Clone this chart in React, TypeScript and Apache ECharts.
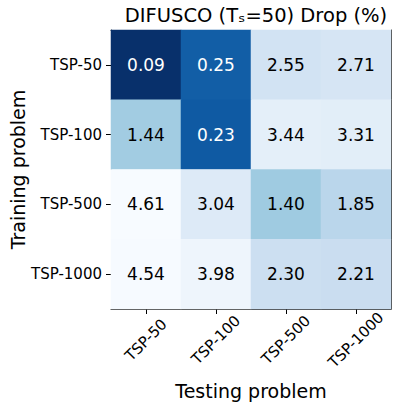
import React, { useEffect, useRef } from "react";
import * as echarts from "echarts";

const testingProblems = ["TSP-50", "TSP-100", "TSP-500", "TSP-1000"];
const trainingProblems = ["TSP-50", "TSP-100", "TSP-500", "TSP-1000"];
// rows = training problem, columns = testing problem
const drop50 = [0.09, 0.25, 2.55, 2.71];
const drop100 = [1.44, 0.23, 3.44, 3.31];
const drop500 = [4.61, 3.04, 1.4, 1.85];
const drop1000 = [4.54, 3.98, 2.3, 2.21];
const dropRows = [drop50, drop100, drop500, drop1000];

const BLUES = ["#f7fbff", "#deebf7", "#c6dbef", "#9ecae1", "#6baed6", "#4292c6", "#2171b5", "#08519c", "#08306b"];
const FONT = "DejaVu Sans";

export default function App() {
  const ref = useRef<HTMLDivElement>(null);
  useEffect(() => {
    if (!ref.current) return;
    const chart = echarts.init(ref.current, null, { renderer: "svg" });
    const all = dropRows.flat();
    const vmin = Math.min(...all);
    const vmax = Math.max(...all);
    const k = 20; // log-like colour normalisation
    const norm = (v: number) => Math.log(1 + k * ((v - vmin) / (vmax - vmin))) / Math.log(1 + k);
    const data: any[] = [];
    dropRows.forEach((row, yi) => {
      row.forEach((v, xi) => {
        const t = norm(v);
        data.push({
          value: [xi, yi, v, t],
          label: { color: t < 0.5 ? "#ffffff" : "#000000" },
        });
      });
    });
    const labelStyle = { fontFamily: FONT, fontSize: 15, color: "#000" };
    chart.setOption({
      animation: false,
      textStyle: { fontFamily: FONT },
      title: {
        text: "DIFUSCO (Tₛ=50) Drop (%)",
        left: 251,
        top: 0,
        textAlign: "center",
        textStyle: { fontFamily: FONT, fontSize: 19.5, fontWeight: "normal", color: "#000" },
      },
      grid: { left: 111, right: 8, top: 30, bottom: 101, containLabel: false, outerBoundsMode: "none" },
      visualMap: {
        show: false,
        dimension: 3,
        min: 0,
        max: 1,
        inRange: { color: BLUES.slice().reverse() },
      },
      xAxis: [
        {
          type: "category",
          data: testingProblems,
          position: "bottom",
          name: "Testing problem",
          nameLocation: "middle",
          nameGap: 72,
          nameMoveOverlap: false,
          nameTextStyle: { fontFamily: FONT, fontSize: 19, color: "#000" },
          axisLine: { show: true, lineStyle: { color: "#333", width: 1 } },
          axisTick: { show: true, alignWithLabel: true, length: 5, lineStyle: { color: "#000" } },
          axisLabel: { ...labelStyle, rotate: 45, margin: 31, align: "center", verticalAlign: "middle" },
          splitLine: { show: false },
        },
        {
          type: "category",
          data: testingProblems,
          position: "top",
          axisLine: { show: true, lineStyle: { color: "#333", width: 1 } },
          axisTick: { show: false },
          axisLabel: { show: false },
        },
      ],
      yAxis: [
        {
          type: "category",
          data: trainingProblems,
          inverse: true,
          position: "left",
          name: "Training problem",
          nameLocation: "middle",
          nameGap: 84,
          nameMoveOverlap: false,
          nameTextStyle: { fontFamily: FONT, fontSize: 19, color: "#000" },
          axisLine: { show: true, lineStyle: { color: "#333", width: 1 } },
          axisTick: { show: true, alignWithLabel: true, length: 5, lineStyle: { color: "#000" } },
          axisLabel: { ...labelStyle, margin: 9 },
          splitLine: { show: false },
        },
        {
          type: "category",
          data: trainingProblems,
          inverse: true,
          position: "right",
          axisLine: { show: true, lineStyle: { color: "#333", width: 1 } },
          axisTick: { show: false },
          axisLabel: { show: false },
        },
      ],
      series: [
        {
          type: "heatmap",
          xAxisIndex: 0,
          yAxisIndex: 0,
          data,
          encode: { x: 0, y: 1 },
          label: {
            show: true,
            fontFamily: FONT,
            fontSize: 17,
            formatter: (p: any) => p.value[2].toFixed(2),
          },
          itemStyle: { borderWidth: 0 },
          emphasis: { disabled: true },
        },
      ],
    });
    return () => chart.dispose();
  }, []);
  return <div ref={ref} style={{ width: 399, height: 410, position: "absolute", left: 0, top: 0 }} />;
}
